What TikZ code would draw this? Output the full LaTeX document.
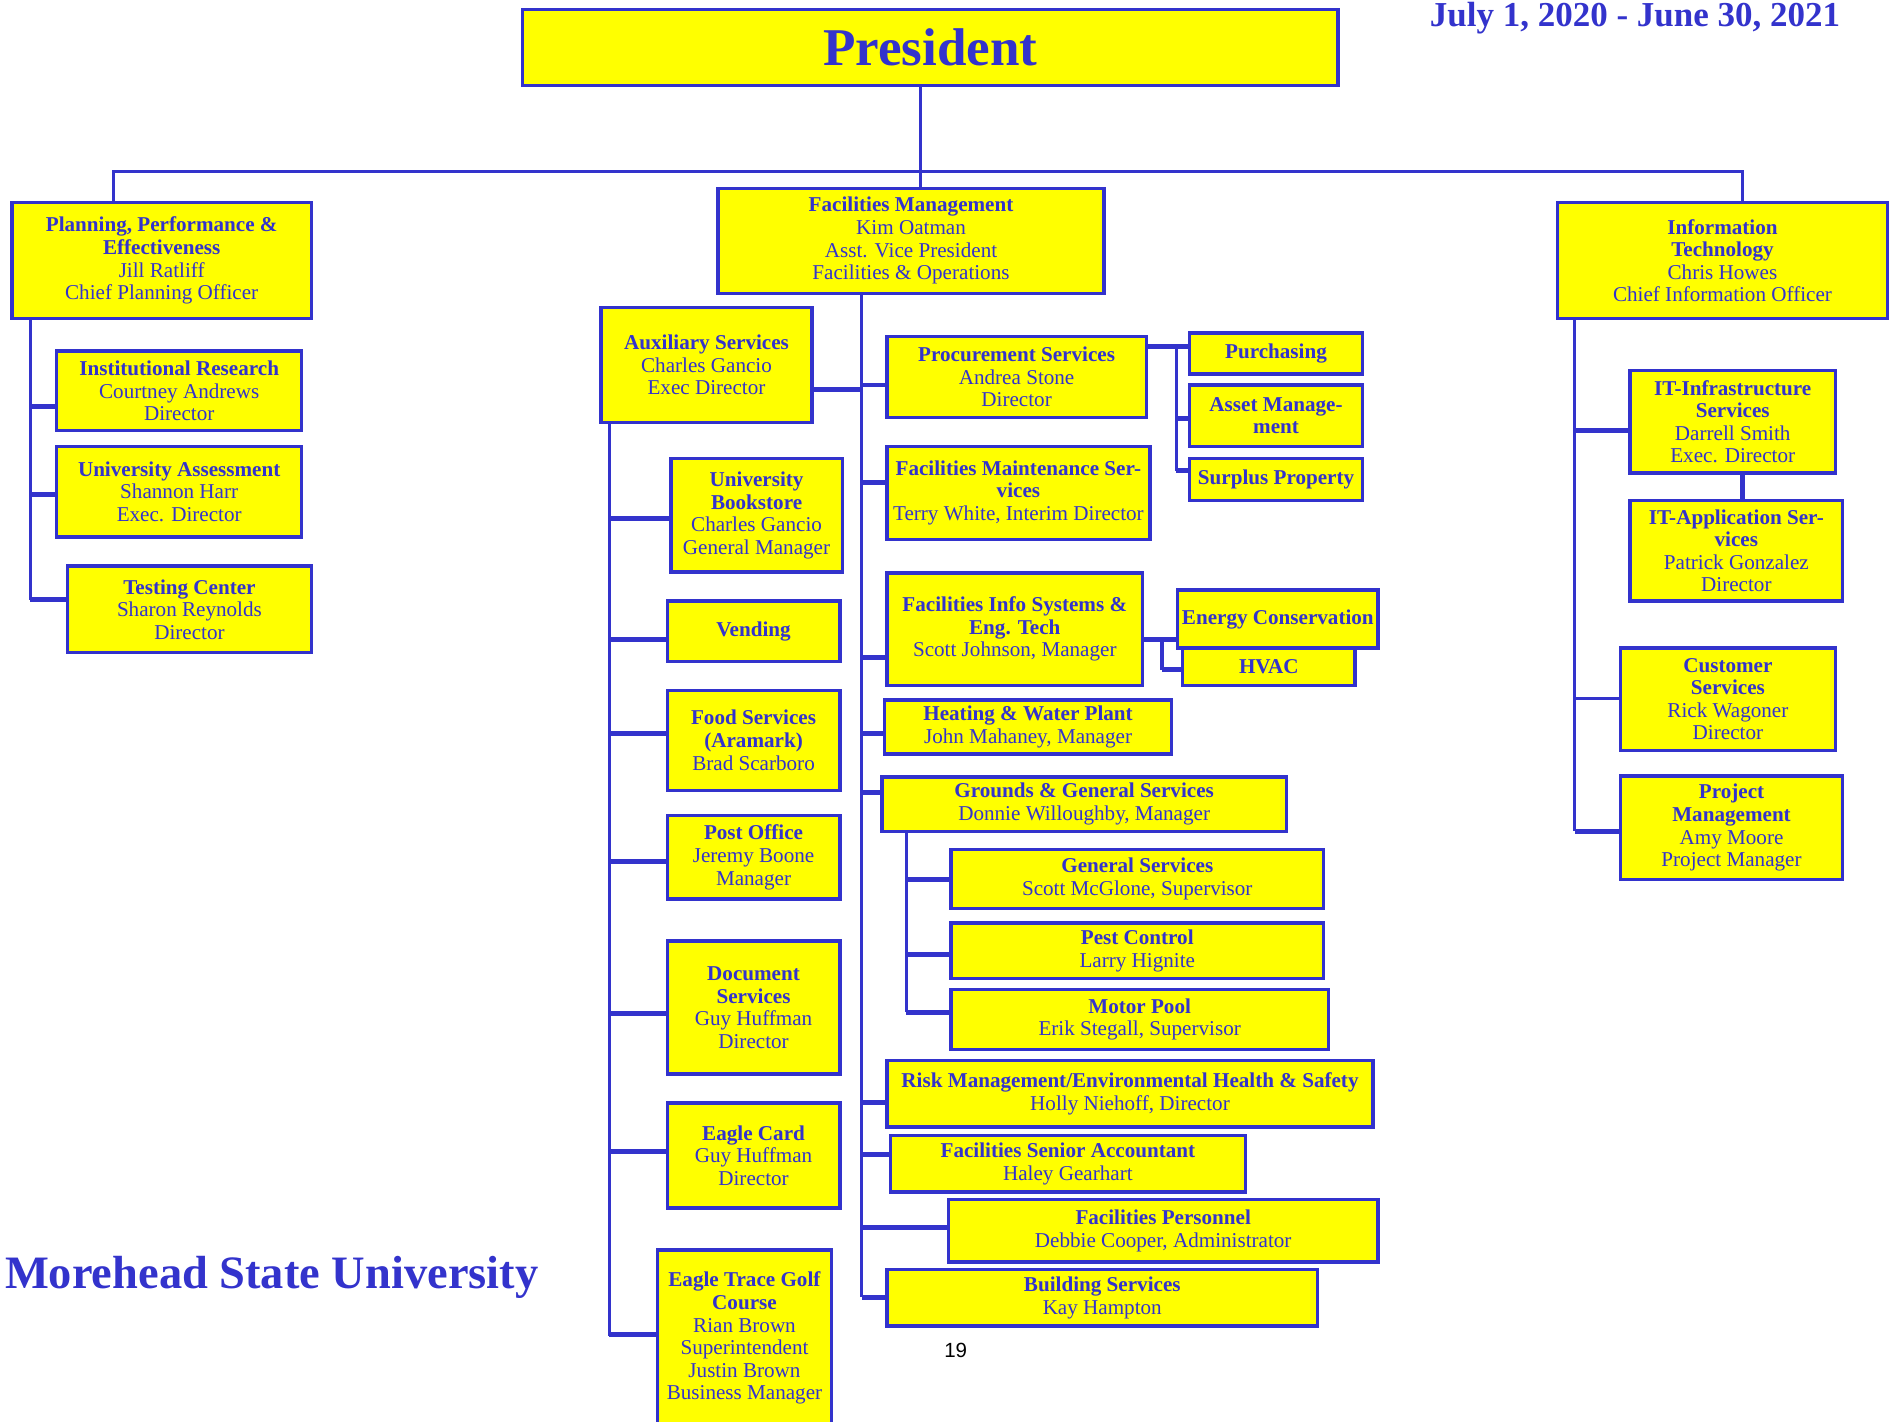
\documentclass[tikz,border=0pt]{standalone}
\usepackage{fontspec}
\setmainfont{Liberation Serif}
\newfontfamily\arialfont{Liberation Sans}
\definecolor{mblue}{RGB}{51,51,204}
\definecolor{myel}{RGB}{255,255,0}
\newcommand\orgbox[6]{\node[box,minimum width={#4-#2},minimum height={#5-#3}] (#1) at ({(#2+#4)/2},{(#3+#5)/2}) {#6};}
\begin{document}
\begin{tikzpicture}[x=1pt,y=-1pt,
  box/.style={draw=mblue,line width=2.8pt,fill=myel,text=mblue,align=center,inner sep=1pt,
    font=\fontsize{17.5}{18.7}\selectfont},
  trunk/.style={draw=mblue,line width=2.6pt},
  stub/.style={draw=mblue,line width=4pt},
  title/.style={text=mblue,inner sep=0pt}]
\useasboundingbox (0,0) rectangle (1568,1178);

% top
\node[box,minimum width=676,minimum height=63,font=\bfseries\fontsize{44}{50}\selectfont] (pres) at (771,39.5) {President};
\node[title,anchor=base,font=\bfseries\fontsize{29}{33}\selectfont] (date) at (1355,22) {July 1, 2020 - June 30, 2021};
\node[title,anchor=base west,font=\bfseries\fontsize{38.5}{44}\selectfont] (msu) at (4,1068) {Morehead State University};
\node[anchor=base,inner sep=0pt,font=\arialfont\fontsize{17}{20}\selectfont] (pg) at (792,1125) {19};

% level 1
\orgbox{plan}{10}{168}{258}{264}{\textbf{Planning, Performance \&}\\\textbf{Effectiveness}\\Jill Ratliff\\Chief Planning Officer}
\orgbox{fm}{595}{156}{915}{243}{\textbf{Facilities Management}\\Kim Oatman\\Asst. Vice President\\Facilities \& Operations}
\orgbox{it}{1291}{168}{1564}{264}{\textbf{Information}\\\textbf{Technology}\\Chris Howes\\Chief Information Officer}

% planning
\orgbox{ir}{47}{291}{250}{357}{\textbf{Institutional Research}\\Courtney Andrews\\Director}
\orgbox{ua}{47}{370}{250}{445}{\textbf{University Assessment}\\Shannon Harr\\Exec. Director}
\orgbox{tc}{56}{469}{258}{541}{\textbf{Testing Center}\\Sharon Reynolds\\Director}

% facilities
\orgbox{aux}{498}{255}{673}{350}{\textbf{Auxiliary Services}\\Charles Gancio\\Exec Director}
\orgbox{proc}{735}{279}{950}{346}{\textbf{Procurement Services}\\Andrea Stone\\Director}
\orgbox{purch}{986}{276}{1129}{310}{\textbf{Purchasing}}
\orgbox{asset}{986}{319}{1129}{370}{\textbf{Asset Manage-}\\\textbf{ment}}
\orgbox{surplus}{986}{380}{1129}{415}{\textbf{Surplus Property}}
\orgbox{fms}{735}{370}{953}{447}{\textbf{Facilities Maintenance Ser-}\\\textbf{vices}\\Terry White, Interim Director}
\orgbox{fis}{735}{475}{947}{568}{\textbf{Facilities Info Systems \&}\\\textbf{Eng. Tech}\\Scott Johnson, Manager}
\orgbox{energy}{976}{489}{1142}{537}{\textbf{Energy Conservation}}
\orgbox{hvac}{980}{537}{1123}{568}{\textbf{HVAC}}
\orgbox{heat}{733}{580}{971}{625}{\textbf{Heating \& Water Plant}\\John Mahaney, Manager}
\orgbox{grounds}{731}{644}{1066}{689}{\textbf{Grounds \& General Services}\\Donnie Willoughby, Manager}
\orgbox{gs}{788}{704}{1097}{753}{\textbf{General Services}\\Scott McGlone, Supervisor}
\orgbox{pest}{788}{765}{1097}{811}{\textbf{Pest Control}\\Larry Hignite}
\orgbox{motor}{788}{820}{1101}{870}{\textbf{Motor Pool}\\Erik Stegall, Supervisor}
\orgbox{risk}{735}{879}{1138}{934}{\textbf{Risk Management/Environmental Health \& Safety}\\Holly Niehoff, Director}
\orgbox{acct}{738}{941}{1032}{988}{\textbf{Facilities Senior Accountant}\\Haley Gearhart}
\orgbox{pers}{786}{994}{1142}{1046}{\textbf{Facilities Personnel}\\Debbie Cooper, Administrator}
\orgbox{bldg}{735}{1052}{1092}{1099}{\textbf{Building Services}\\Kay Hampton}

% auxiliary
\orgbox{book}{556}{380}{698}{474}{\textbf{University}\\\textbf{Bookstore}\\Charles Gancio\\General Manager}
\orgbox{vend}{553}{498}{696}{548}{\textbf{Vending}}
\orgbox{food}{553}{572}{696}{655}{\textbf{Food Services}\\\textbf{(Aramark)}\\Brad Scarboro}
\orgbox{post}{553}{676}{696}{745}{\textbf{Post Office}\\Jeremy Boone\\Manager}
\orgbox{doc}{553}{780}{696}{890}{\textbf{Document}\\\textbf{Services}\\Guy Huffman\\Director}
\orgbox{card}{553}{914}{696}{1001}{\textbf{Eagle Card}\\Guy Huffman\\Director}
\orgbox{golf}{545}{1036}{689}{1182}{\textbf{Eagle Trace Golf}\\\textbf{Course}\\Rian Brown\\Superintendent\\Justin Brown\\Business Manager}

% IT
\orgbox{itinf}{1351}{307}{1521}{392}{\textbf{IT-Infrastructure}\\\textbf{Services}\\Darrell Smith\\Exec. Director}
\orgbox{itapp}{1351}{415}{1527}{498}{\textbf{IT-Application Ser-}\\\textbf{vices}\\Patrick Gonzalez\\Director}
\orgbox{cust}{1343}{537}{1521}{622}{\textbf{Customer}\\\textbf{Services}\\Rick Wagoner\\Director}
\orgbox{proj}{1343}{643}{1527}{729}{\textbf{Project}\\\textbf{Management}\\Amy Moore\\Project Manager}

% top connectors
\coordinate (pj) at (763,142);
\coordinate (hl) at (94,142);
\coordinate (hr) at (1444,142);
\draw[trunk] (pres.south -| pj) -- (pj);
\draw[trunk] (plan.north -| hl) |- (hr) -- (it.north -| hr);
\draw[trunk] (pj) -- (fm.north -| pj);

% planning connectors
\coordinate (lx) at (25,264);
\coordinate (l1) at (25,337);
\coordinate (l2) at (25,410);
\coordinate (l3) at (25,497);
\draw[trunk] (plan.south -| lx) -- (l3);
\draw[stub] (l1) -- (l1 -| ir.west);
\draw[stub] (l2) -- (l2 -| ua.west);
\draw[stub] (l3) -- (l3 -| tc.west);

% facilities trunk
\coordinate (fx) at (714,243);
\coordinate (fb) at (714,1075);
\draw[trunk] (fm.south -| fx) -- (fb);
\draw[stub] (fb) -- (fb -| bldg.west);
\foreach \n/\y in {proc/319,fms/400,fis/545,heat/608,grounds/657,risk/914,acct/957,pers/1017}{
  \coordinate (f-\n) at (714,\y);
  \draw[stub] (f-\n) -- (f-\n -| \n.west);
}
\coordinate (ax) at (714,323);
\draw[stub] (aux.east |- ax) -- (ax);

% procurement
\coordinate (p0) at (975,287);
\coordinate (p2) at (975,347);
\coordinate (p3) at (975,390);
\draw[stub] (proc.east |- p0) -- (purch.west |- p0);
\draw[trunk] (p0) -- (p3);
\draw[stub] (p2) -- (p2 -| asset.west);
\draw[stub] (p3) -- (p3 -| surplus.west);

% info systems
\coordinate (e0) at (963,530);
\coordinate (e1) at (963,555);
\draw[stub] (fis.east |- e0) -- (energy.west |- e0);
\draw[stub] (e0) -- (e1);
\draw[stub] (e1) -- (e1 -| hvac.west);

% grounds
\coordinate (gx) at (751,689);
\coordinate (g3) at (751,839);
\draw[trunk] (grounds.south -| gx) -- (g3);
\foreach \n/\y in {gs/729,pest/791}{
  \coordinate (g-\n) at (751,\y);
  \draw[stub] (g-\n) -- (g-\n -| \n.west);
}
\draw[stub] (g3) -- (g3 -| motor.west);

% auxiliary
\coordinate (ax0) at (505,350);
\coordinate (axb) at (505,1107);
\draw[trunk] (aux.south -| ax0) -- (axb);
\foreach \n/\y in {book/430,vend/530,food/608,post/714,doc/840,card/954,golf/1106}{
  \coordinate (a-\n) at (505,\y);
  \draw[stub] (a-\n) -- (a-\n -| \n.west);
}

% IT
\coordinate (ix) at (1305,264);
\coordinate (i3) at (1305,689);
\coordinate (i1) at (1305,357);
\coordinate (i2) at (1305,579);
\draw[trunk] (it.south -| ix) -- (i3);
\draw[stub] (i1) -- (i1 -| itinf.west);
\draw[trunk] (i2) -- (i2 -| cust.west);
\draw[stub] (i3) -- (i3 -| proj.west);
\coordinate (ic) at (1444,392);
\draw[stub] (itinf.south -| ic) -- (itapp.north -| ic);
\end{tikzpicture}
\end{document}
